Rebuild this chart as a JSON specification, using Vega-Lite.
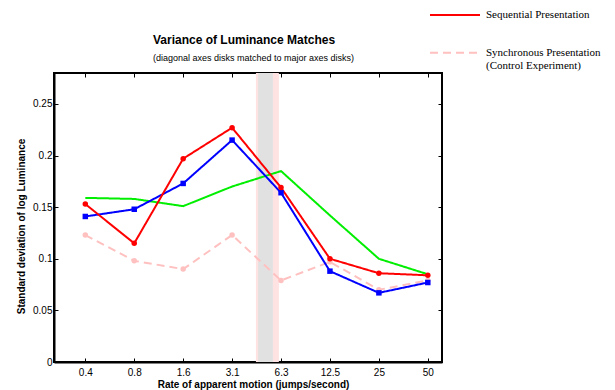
{
  "$schema": "https://vega.github.io/schema/vega-lite/v6.json",
  "width": 388,
  "height": 289,
  "autosize": {"type": "none"},
  "padding": {"left": 54, "top": 73, "right": 173, "bottom": 28},
  "background": "white",
  "title": {
    "text": "Variance of Luminance Matches",
    "subtitle": "(diagonal axes disks matched to major axes disks)",
    "anchor": "start",
    "frame": "group",
    "dx": 99,
    "offset": -75,
    "font": "Liberation Sans",
    "fontSize": 12,
    "fontWeight": "bold",
    "color": "black",
    "subtitleFont": "Liberation Sans",
    "subtitleFontSize": 9,
    "subtitleColor": "black",
    "subtitlePadding": 7
  },
  "config": {
    "view": {"stroke": "black", "strokeWidth": 2},
    "axis": {
      "grid": false,
      "domainColor": "black",
      "domainWidth": 2,
      "tickColor": "black",
      "tickWidth": 1,
      "tickSize": -4,
      "labelFont": "Liberation Sans",
      "labelFontSize": 10,
      "labelColor": "black",
      "titleFont": "Liberation Sans",
      "titleFontSize": 10,
      "titleFontWeight": "bold",
      "titleColor": "black"
    }
  },
  "datasets": {
    "pinkband": [{"x0": 3.487, "x1": 3.956}],
    "grayband": [{"x0": 3.533, "x1": 3.834}],
    "lines": [
      {"series": "Synchronous Presentation", "step": 0, "rate": "0.4", "sd": 0.123},
      {"series": "Synchronous Presentation", "step": 1, "rate": "0.8", "sd": 0.098},
      {"series": "Synchronous Presentation", "step": 2, "rate": "1.6", "sd": 0.090},
      {"series": "Synchronous Presentation", "step": 3, "rate": "3.1", "sd": 0.123},
      {"series": "Synchronous Presentation", "step": 4, "rate": "6.3", "sd": 0.079},
      {"series": "Synchronous Presentation", "step": 5, "rate": "12.5", "sd": 0.097},
      {"series": "Synchronous Presentation", "step": 6, "rate": "25", "sd": 0.070},
      {"series": "Synchronous Presentation", "step": 7, "rate": "50", "sd": 0.079},
      {"series": "Green", "step": 0, "rate": "0.4", "sd": 0.159},
      {"series": "Green", "step": 1, "rate": "0.8", "sd": 0.158},
      {"series": "Green", "step": 2, "rate": "1.6", "sd": 0.151},
      {"series": "Green", "step": 3, "rate": "3.1", "sd": 0.170},
      {"series": "Green", "step": 4, "rate": "6.3", "sd": 0.185},
      {"series": "Green", "step": 5, "rate": "12.5", "sd": 0.142},
      {"series": "Green", "step": 6, "rate": "25", "sd": 0.100},
      {"series": "Green", "step": 7, "rate": "50", "sd": 0.085},
      {"series": "Blue", "step": 0, "rate": "0.4", "sd": 0.141},
      {"series": "Blue", "step": 1, "rate": "0.8", "sd": 0.148},
      {"series": "Blue", "step": 2, "rate": "1.6", "sd": 0.173},
      {"series": "Blue", "step": 3, "rate": "3.1", "sd": 0.215},
      {"series": "Blue", "step": 4, "rate": "6.3", "sd": 0.164},
      {"series": "Blue", "step": 5, "rate": "12.5", "sd": 0.088},
      {"series": "Blue", "step": 6, "rate": "25", "sd": 0.067},
      {"series": "Blue", "step": 7, "rate": "50", "sd": 0.077},
      {"series": "Sequential Presentation", "step": 0, "rate": "0.4", "sd": 0.153},
      {"series": "Sequential Presentation", "step": 1, "rate": "0.8", "sd": 0.115},
      {"series": "Sequential Presentation", "step": 2, "rate": "1.6", "sd": 0.197},
      {"series": "Sequential Presentation", "step": 3, "rate": "3.1", "sd": 0.227},
      {"series": "Sequential Presentation", "step": 4, "rate": "6.3", "sd": 0.169},
      {"series": "Sequential Presentation", "step": 5, "rate": "12.5", "sd": 0.100},
      {"series": "Sequential Presentation", "step": 6, "rate": "25", "sd": 0.086},
      {"series": "Sequential Presentation", "step": 7, "rate": "50", "sd": 0.084}
    ]
  },
  "layer": [
    {
      "data": {"name": "pinkband"},
      "mark": {"type": "rect", "color": "#ffe3e3"},
      "encoding": {
        "x": {"field": "x0", "type": "quantitative", "scale": {"domain": [-0.64, 7.29], "nice": false, "zero": false}, "axis": null},
        "x2": {"field": "x1"}
      }
    },
    {
      "data": {"name": "grayband"},
      "mark": {"type": "rect", "color": "#e1e1e1"},
      "encoding": {
        "x": {"field": "x0", "type": "quantitative", "scale": {"domain": [-0.64, 7.29], "nice": false, "zero": false}, "axis": null},
        "x2": {"field": "x1"}
      }
    },
    {
      "data": {"name": "lines"},
      "mark": {"type": "line", "strokeWidth": 2},
      "encoding": {
        "x": {
          "field": "step", "type": "quantitative",
          "scale": {"domain": [-0.64, 7.29], "nice": false, "zero": false},
          "axis": {
            "orient": "bottom",
            "values": [0, 1, 2, 3, 4, 5, 6, 7],
            "labelExpr": "['0.4','0.8','1.6','3.1','6.3','12.5','25','50'][datum.value]",
            "labelPadding": 9,
            "labelFlush": false,
            "labelOverlap": false,
            "title": "Rate of apparent motion (jumps/second)",
            "titleX": 199,
            "titleY": 22,
            "titleBaseline": "middle",
            "titleAnchor": null
          }
        },
        "y": {
          "field": "sd", "type": "quantitative",
          "scale": {"domain": [0, 0.28], "nice": false},
          "axis": {
            "orient": "left",
            "values": [0, 0.05, 0.1, 0.15, 0.2, 0.25],
            "labelExpr": "format(datum.value, '~g')",
            "labelPadding": 6,
            "labelFlush": false,
            "title": "Standard deviation of log Luminance",
            "titleX": -33,
            "titleY": 153,
            "titleAlign": "center",
            "titleBaseline": "middle",
            "titleAngle": -90
          }
        },
        "color": {
          "field": "series", "type": "nominal",
          "scale": {
            "domain": ["Sequential Presentation", "Synchronous Presentation", "Blue", "Green"],
            "range": ["#ff0000", "#ffc0c0", "#0000ff", "#00ee00"]
          },
          "legend": {
            "orient": "none",
            "legendX": 375,
            "legendY": -84,
            "title": null,
            "values": ["Sequential Presentation", "Synchronous Presentation"],
            "symbolType": "stroke",
            "symbolSize": 2500,
            "symbolStrokeWidth": 2,
            "labelFont": "Liberation Serif",
            "labelFontSize": 11,
            "labelColor": "black",
            "labelOffset": 5,
            "labelLimit": 300,
            "rowPadding": 6.7,
            "labelExpr": "datum.label == 'Synchronous Presentation' ? ['Synchronous Presentation', '(Control Experiment)'] : datum.label"
          }
        },
        "strokeDash": {
          "field": "series", "type": "nominal",
          "scale": {
            "domain": ["Sequential Presentation", "Synchronous Presentation", "Blue", "Green"],
            "range": [[1, 0], [8, 5], [1, 0], [1, 0]]
          },
          "legend": {
            "orient": "none",
            "legendX": 375,
            "legendY": -84,
            "title": null,
            "values": ["Sequential Presentation", "Synchronous Presentation"],
            "symbolType": "stroke",
            "symbolSize": 2500,
            "symbolStrokeWidth": 2,
            "labelFont": "Liberation Serif",
            "labelFontSize": 11,
            "labelColor": "black",
            "labelOffset": 5,
            "labelLimit": 300,
            "rowPadding": 6.7,
            "labelExpr": "datum.label == 'Synchronous Presentation' ? ['Synchronous Presentation', '(Control Experiment)'] : datum.label"
          }
        }
      }
    },
    {
      "data": {"name": "lines"},
      "transform": [{"filter": "datum.series != 'Green'"}],
      "mark": {"type": "point", "filled": true, "opacity": 1, "size": 30},
      "encoding": {
        "x": {
          "field": "step", "type": "quantitative",
          "scale": {"domain": [-0.64, 7.29], "nice": false, "zero": false},
          "axis": {"orient": "top", "values": [0, 1, 2, 3, 4, 5, 6, 7], "labels": false, "title": null, "domain": false}
        },
        "y": {
          "field": "sd", "type": "quantitative",
          "axis": {"orient": "right", "values": [0, 0.05, 0.1, 0.15, 0.2, 0.25], "labels": false, "title": null, "domain": false}
        },
        "color": {"field": "series", "type": "nominal", "legend": null},
        "shape": {
          "field": "series", "type": "nominal",
          "scale": {
            "domain": ["Sequential Presentation", "Synchronous Presentation", "Blue"],
            "range": ["circle", "circle", "square"]
          },
          "legend": null
        }
      }
    }
  ],
  "resolve": {"axis": {"x": "independent", "y": "independent"}}
}
